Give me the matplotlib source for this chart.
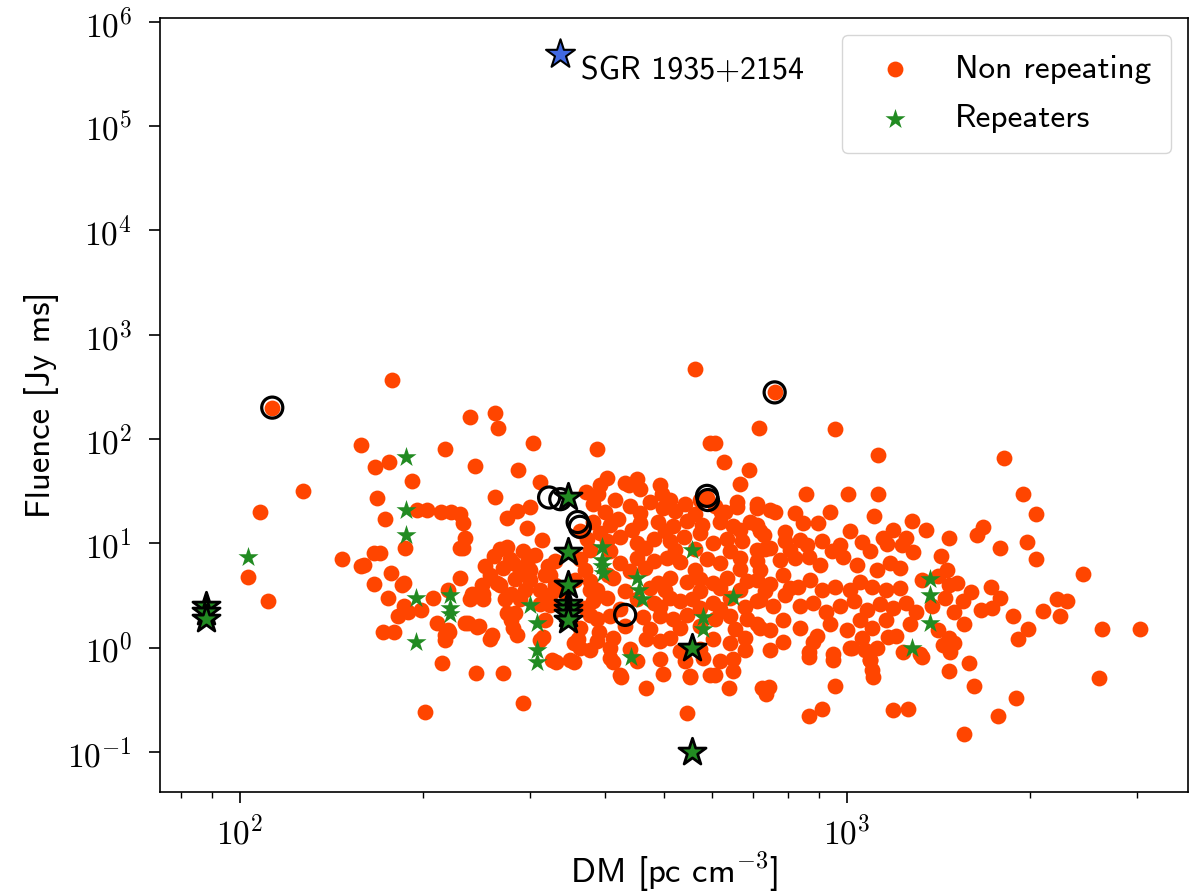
import numpy as np
import matplotlib
matplotlib.use("Agg")
import matplotlib.pyplot as plt
from matplotlib import ticker

plt.rcParams['mathtext.fontset'] = 'cm'
plt.rcParams['mathtext.default'] = 'rm'
plt.rcParams['font.family'] = ['cmss10', 'DejaVu Sans']
plt.rcParams['axes.unicode_minus'] = True

# non repeating FRBs (DM [pc cm^-3], fluence [Jy ms])
nr_dm = [113, 178, 158, 218, 167, 176, 192, 127, 168, 196, 203, 214, 223, 230, 108, 173, 187, 103, 147, 158,
         166, 170, 177, 230, 111, 166, 185, 175, 208, 182, 189, 199, 172, 179, 211, 218, 221, 215, 202,
         233, 235, 233, 263, 275, 286, 300, 297, 315, 275, 293, 160, 253, 271, 282, 297, 322, 186, 230, 220,
         241, 251, 265, 280, 220, 218, 237, 246, 260, 284, 282, 316, 327, 245, 271, 186,
         268, 278, 289, 306, 318, 268, 284, 295, 312, 330, 273, 289, 312, 324,
         239, 251, 235, 248, 258, 275, 280, 286, 250, 300, 324, 324, 318, 312, 357, 377, 404, 377, 390, 407,
         292, 355, 363, 332, 355, 412, 425, 466, 551, 546,
         562, 239, 263, 266, 304, 387, 244, 287, 312, 402, 372, 389, 451, 438, 495, 510, 595, 588,
         392, 431, 456, 492, 667,
         381, 415, 439, 474, 497, 541, 573, 606, 659, 710,
         381, 407, 419, 456, 488, 517, 545, 576, 618, 650, 692,
         373, 402, 423, 451, 481, 511, 539, 601, 634, 672,
         363, 423, 451, 481, 505, 531, 588, 618, 667, 710,
         377, 412, 488, 511, 545, 573, 601, 634, 685,
         381, 402, 451, 481, 511, 531, 556, 601, 642, 710,
         387, 407, 461, 492, 517, 545, 606, 642, 685,
         360, 387, 412, 466, 492, 511, 601, 642, 679,
         350, 407, 451, 492, 541, 579, 618, 648,
         423, 497, 551, 606,
         399, 456, 521, 562, 630, 747, 821, 938,
         363, 392, 442, 502, 573, 667, 719,
         377, 407, 465, 521, 562, 642, 733, 806,
         370, 439, 465, 562, 667, 719,
         387, 431, 474, 502, 573, 618, 667, 733, 806,
         370, 423, 492, 573, 618, 679,
         363, 431, 474, 531, 573, 654, 719,
         377, 439, 531, 573, 679, 747,
         262, 300, 330, 258, 340,
         760, 715, 955, 606, 626, 689, 1126, 855, 1003, 1126, 1109, 897, 847, 658, 710, 760, 1280, 1350, 1470, 620,
         710, 730, 790, 790, 837, 860, 910, 974, 1012, 1060, 1145, 1165, 1190, 1230, 1250,
         710, 747, 776, 820, 865, 903, 945, 985, 1040, 1092, 1120, 1178, 1223, 1285,
         710, 747, 785, 830, 869, 910, 955, 1012, 1051, 1100, 1160, 1223, 1330, 1410,
         719, 755, 790, 837, 880, 925, 974, 1025, 1080, 1134, 1190, 1250, 1300, 1380,
         710, 747, 785, 837, 893, 938, 1000, 1051, 1100, 1160, 1205, 1271, 1410,
         785, 880, 948, 1012, 1060, 1120, 1235, 1320, 1440, 865, 1092, 1100,
         640, 725, 745, 735, 955, 865, 910, 1190, 1260, 1105, 950, 865, 594, 650, 1020, 1070, 1090, 1170,
         1470, 1500, 1330, 1470,
         1815, 1950, 2045, 1675, 1636, 1788, 1980, 2045, 2450, 1730, 1790, 1735, 1660, 1550, 1880, 1990,
         1910, 2100, 2220, 2300, 2240, 2630, 3040, 2600, 1590, 1620, 1900, 1770, 1560, 1480, 1470,
         1430, 1460, 1520, 1450, 1500, 1560, 1600]
nr_flu = [200, 370, 88, 80, 54, 60, 40, 32, 27, 21, 21, 20, 20, 19, 20, 17, 9, 4.8, 7, 6,
          8.1, 8.1, 5.2, 9, 2.8, 4.1, 4.0, 3.0, 3.0, 2.0, 2.2, 2.3, 1.41, 1.41, 1.73, 1.33, 1.41, 0.71, 0.24,
          15.7, 11.3, 9.0, 27.9, 17.5, 20.6, 22.4, 14.0, 10.8, 9.2, 8.4, 6.2, 6.1, 5.8, 6.5, 6.5, 6.0, 4.2, 4.6, 3.6,
          3.3, 3.3, 4.2, 3.3, 1.48, 1.19, 1.73, 1.58, 1.33, 2.15, 1.55, 1.27, 0.76, 0.57, 0.57, 2.5,
          8.9, 7.0, 5.4, 7.8, 5.0, 4.0, 4.5, 3.6, 3.6, 4.0, 2.9, 2.9, 2.6, 3.2,
          2.95, 2.95, 1.73, 1.6, 1.2, 2.15, 1.84, 1.33, 4.0, 4.46, 5.0, 2.58, 1.84, 1.19, 4.46, 3.58, 5.0, 2.07, 1.42, 1.0,
          0.295, 1.1, 1.0, 0.72, 0.72, 0.72, 0.52, 0.41, 0.52, 0.236,
          470, 163, 178, 128, 92, 80, 55, 50, 39, 42, 31, 30, 41, 36, 30, 26, 92, 27,
          36, 38, 33, 36, 37,
          24, 26, 23, 25, 22, 24, 26, 23, 25, 24,
          16, 15, 17, 15.5, 16, 14.5, 16.5, 15, 16, 14.5, 16,
          11, 10.5, 11.5, 10, 11, 10.5, 11.5, 10, 11, 10.5,
          7, 6.5, 7.2, 6.8, 7.3, 6.6, 7, 6.5, 7.2, 6.8,
          4.4, 4.6, 4.2, 4.6, 4.3, 4.5, 4.2, 4.7, 4.4,
          2.8, 3.0, 2.9, 2.7, 3.0, 2.8, 2.9, 2.7, 3.0, 2.8,
          1.9, 2.0, 1.95, 2.0, 1.9, 2.05, 1.9, 2.0, 1.9,
          1.2, 1.15, 1.25, 1.2, 1.15, 1.25, 1.2, 1.1, 1.25,
          0.76, 0.8, 0.74, 0.78, 0.75, 0.8, 0.74, 0.78,
          0.55, 0.56, 0.54, 0.55,
          20, 19.5, 20.5, 19, 20, 21, 19.5, 20,
          13, 12.5, 13.5, 13, 12.5, 13.5, 13,
          8.7, 8.4, 9, 8.6, 8.9, 8.5, 8.8, 8.6,
          5.6, 5.4, 5.8, 5.5, 5.7, 5.6,
          3.6, 3.5, 3.7, 3.6, 3.5, 3.7, 3.6, 3.5, 3.7,
          2.4, 2.35, 2.45, 2.4, 2.35, 2.45,
          1.55, 1.6, 1.5, 1.55, 1.6, 1.5, 1.55,
          0.95, 0.97, 0.93, 0.96, 0.94, 0.95,
          7.5, 5.5, 6.8, 5.0, 3.5,
          280, 128, 125, 92, 60, 51, 70, 30, 30, 30, 18.3, 15.7, 15.5, 22.3, 22, 20, 16.2, 13.5, 11.3, 20,
          15.1, 12.1, 12.8, 10.5, 10.8, 9.7, 10.5, 9.7, 13.0, 10.3, 11.3, 9.9, 13.5, 9.7, 11.3,
          8.7, 9.1, 6.9, 7.2, 7.4, 6.2, 8.4, 7.4, 6.2, 8.4, 5.6, 6.5, 5.8, 8.2,
          4.46, 4.1, 5.0, 3.8, 4.46, 3.6, 3.8, 3.6, 4.3, 3.8, 3.6, 3.7, 4.46, 4.9,
          2.87, 2.5, 3.2, 2.5, 2.7, 2.2, 2.5, 2.8, 2.3, 2.6, 2.4, 2.7, 2.2, 2.5,
          1.7, 1.48, 1.84, 1.55, 1.3, 1.7, 1.48, 1.84, 1.55, 1.84, 1.3, 1.7, 1.48,
          1.12, 1.12, 0.86, 1.0, 1.25, 1.0, 0.9, 0.86, 1.05, 0.9, 0.76, 0.61,
          0.41, 0.41, 0.42, 0.36, 0.43, 0.22, 0.26, 0.25, 0.26, 0.52, 0.76, 0.81, 0.55, 0.6, 1.0, 0.95, 0.76, 1.27,
          1.24, 1.1, 0.81, 0.6,
          66, 30, 19, 14.3, 12, 9, 10.3, 7.1, 5.1, 3.8, 3.0, 2.4, 2.3, 2.8, 2.0, 1.5,
          1.2, 2.25, 2.9, 2.8, 2.0, 1.5, 1.5, 0.51, 0.71, 0.43, 0.33, 0.22, 0.15, 0.9, 4.0,
          7.5, 5.5, 4.2, 3.0, 2.2, 1.7, 3.4]

# repeaters
rep_dm = [103, 188, 188, 188, 195, 195, 222, 222, 222, 300, 308, 308, 308, 395, 395, 395, 397,
          450, 455, 460, 440, 555, 580, 580, 650, 1370, 1370, 1370, 1280]
rep_flu = [7.4, 67, 21, 12, 3.0, 1.13, 3.2, 2.4, 2.1, 2.57, 1.73, 0.95, 0.73, 9.2, 6.9, 6.0, 5.2,
           4.6, 3.6, 2.9, 0.81, 8.6, 1.95, 1.5, 3.06, 4.5, 3.2, 1.73, 1.0]

# highlighted repeaters (black edge)
hl_rep_dm = [88, 88, 88, 347, 347, 347, 347, 347, 347, 347, 556, 556]
hl_rep_flu = [2.5, 2.2, 1.9, 27.8, 8.3, 4.0, 2.6, 2.35, 2.1, 1.85, 1.0, 0.1]

# highlighted non repeating (open rings)
hl_nr_dm = [113, 323, 337, 360, 363, 431, 588, 590, 760]
hl_nr_flu = [200, 27.5, 26.5, 16, 14.4, 2.06, 28.5, 26, 280]

sgr_dm = [336]
sgr_flu = [4.9e5]


def pow10_label(v, pos):
    return r'$10^{%d}$' % int(round(np.log10(v)))


fig = plt.figure(figsize=(12, 8.96), dpi=100)
ax = fig.add_axes([0.1333, 0.1161, 0.8567, 0.8639])

ax.scatter(nr_dm, nr_flu, s=130, c='orangered', linewidths=0, label='Non repeating', zorder=2)
ax.scatter(rep_dm, rep_flu, s=230, marker='*', c='forestgreen', linewidths=0, label='Repeaters', zorder=3)
ax.scatter(hl_nr_dm, hl_nr_flu, s=230, facecolors='none', edgecolors='black', linewidths=2.3, zorder=4)
ax.scatter(hl_rep_dm, hl_rep_flu, s=420, marker='*', c='forestgreen', edgecolors='black', linewidths=2.0, zorder=4)
ax.scatter(sgr_dm, sgr_flu, s=480, marker='*', c='royalblue', edgecolors='black', linewidths=1.5, zorder=4)
ax.text(365, 3.4e5, 'SGR 1935+2154', fontsize=23, va='center', ha='left')

ax.set_xscale('log')
ax.set_yscale('log')
ax.set_xlim(73.8, 3646)
ax.set_ylim(0.0413, 1.09e6)
ax.yaxis.set_minor_locator(ticker.NullLocator())
ax.xaxis.set_major_formatter(ticker.FuncFormatter(pow10_label))
ax.yaxis.set_major_formatter(ticker.FuncFormatter(pow10_label))
ax.xaxis.set_minor_formatter(ticker.NullFormatter())

ax.set_xlabel(r'DM [pc cm$^{-3}$]', fontsize=25, labelpad=0)
ax.set_ylabel('Fluence [Jy ms]', fontsize=25, labelpad=6)
ax.tick_params(which='major', labelsize=24, length=8, width=1.2)
ax.tick_params(axis='y', which='major', pad=12)
ax.tick_params(axis='x', which='major', pad=8)
ax.tick_params(which='minor', length=4, width=1.0)
for sp in ax.spines.values():
    sp.set_linewidth(1.2)

ax.legend(loc='upper right', fontsize=24, scatterpoints=1, borderpad=0.6, labelspacing=0.6)

fig.savefig('out.png', dpi=100)
